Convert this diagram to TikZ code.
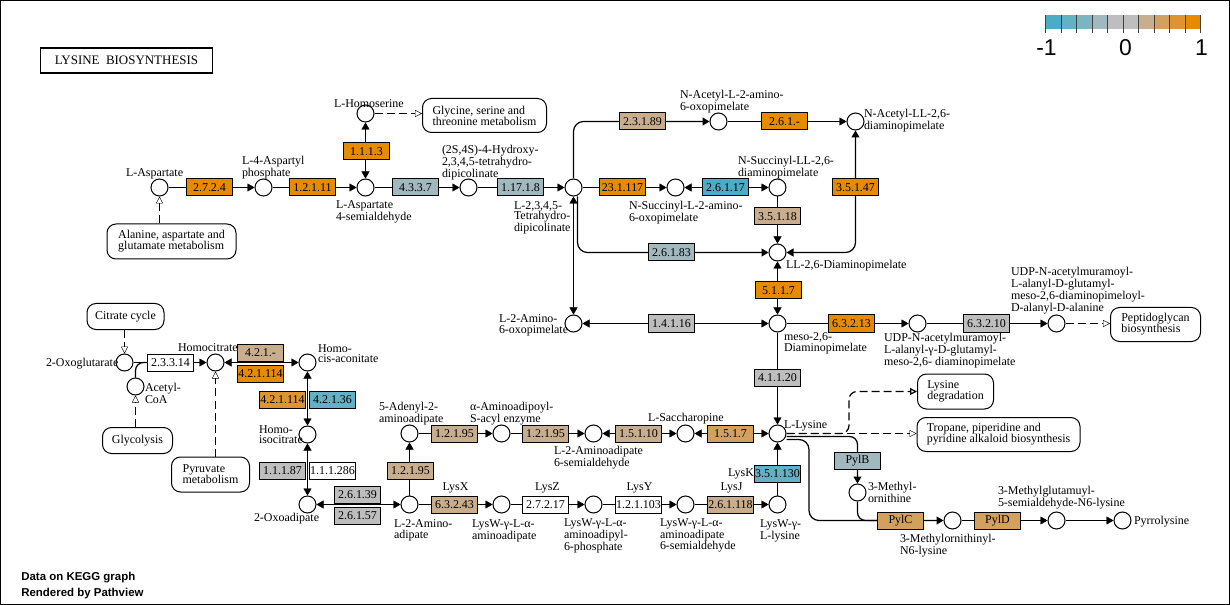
\documentclass[tikz,border=0pt]{standalone}
\usepackage{fontspec}
\setmainfont{Liberation Serif}
\newfontfamily\sansfont{Liberation Sans}
\usepackage{tikz}
\usetikzlibrary{
	arrows.meta,
	calc,
	positioning,
	backgrounds,
	}

\definecolor{up}{HTML}{E68A00}
\definecolor{upb}{HTML}{DC9530}
\definecolor{upc}{HTML}{D2A15F}
\definecolor{upd}{HTML}{C8AE8E}
\definecolor{zero}{HTML}{BEBEBE}
\definecolor{dnd}{HTML}{A0B8BE}
\definecolor{dnc}{HTML}{7DB4C2}
\definecolor{dnb}{HTML}{64B0C4}
\definecolor{dn}{HTML}{4BACC6}

\tikzset{
	cpd/.style={draw, circle, fill=white, minimum size=17bp, inner sep=0pt},
	enz/.style={draw, fill=white, minimum width=46bp, minimum height=17bp, inner sep=0pt, font=\fontsize{12}{12}\selectfont},
	lbl/.style={align=left, inner sep=0pt, anchor=west, font=\fontsize{12}{10.5}\selectfont},
	map/.style={draw, fill=white, rounded corners=9bp, align=left, inner sep=0pt, font=\fontsize{12}{11}\selectfont},
	mlink/.style={dash pattern=on 8bp off 4bp, -{Triangle[open, length=7bp, width=7bp]}},
	elbow/.style={rounded corners=#1, line width=1.25bp},
	elbow/.default=10bp,
}

\begin{document}
\begin{tikzpicture}[x=1bp, y=-1bp, line width=1bp, >={Triangle[length=7bp, width=8bp]}]
	\useasboundingbox (-0.5,-0.5) rectangle (1229.5,604.5);
	\draw[line width=1.5bp] (0.25,0.25) rectangle (1228.75,603.75);

	\node[draw, line width=1.2bp, minimum width=172bp, minimum height=25bp, font=\fontsize{13}{13}\selectfont] (title) at (126,60) {LYSINE\ \ BIOSYNTHESIS};

	\foreach \c [count=\i from 0] in {dn,dnb,dnc,dnd,zero,zero,upd,upc,upb,up}
		\fill[\c] (1045+15.5*\i,15) rectangle ++(15.5,14);
	\foreach \i in {0,...,10}
		\draw[line width=0.8bp, black!75] (1045+15.5*\i,15) -- ++(0,18);
	\node[font=\sansfont\fontsize{23}{23}\selectfont] (lgmin) at (1046,47) {-1};
	\node[font=\sansfont\fontsize{23}{23}\selectfont] (lgmid) at (1125,47) {0};
	\node[font=\sansfont\fontsize{23}{23}\selectfont] (lgmax) at (1201,47) {1};

	\node[anchor=west, font=\sansfont\bfseries\fontsize{11.5}{12}\selectfont] (foot1) at (17,577) {Data on KEGG graph};
	\node[anchor=west, font=\sansfont\bfseries\fontsize{11.5}{12}\selectfont] (foot2) at (17,593) {Rendered by Pathview};

	\node[cpd] (asp) at (159,187) {};
	\node[cpd] (asppho) at (263,187) {};
	\node[cpd] (asa) at (365,187) {};
	\node[cpd] (hser) at (365,113) {};
	\node[cpd] (hthdp) at (468,187) {};
	\node[cpd] (thdp) at (573,187) {};
	\node[cpd] (nsucoxo) at (675,187) {};
	\node[cpd] (nsucdap) at (777,187) {};
	\node[cpd] (nacoxo) at (718,121) {};
	\node[cpd] (naclldap) at (855,121) {};
	\node[cpd] (lldap) at (777,252) {};
	\node[cpd] (l2a6o) at (573,323) {};
	\node[cpd] (mesodap) at (777,323) {};
	\node[cpd] (udpmd) at (917,323) {};
	\node[cpd] (udppen) at (1056,323) {};
	\node[cpd] (lys) at (777,433) {};
	\node[cpd] (meorn) at (857,492) {};
	\node[cpd] (meornlys) at (952,520) {};
	\node[cpd] (mglu) at (1056,520) {};
	\node[cpd] (pyl) at (1122,520) {};
	\node[cpd] (lyswlys) at (777,504) {};
	\node[cpd] (lyswsa) at (685,504) {};
	\node[cpd] (lyswp) at (593,504) {};
	\node[cpd] (lyswaa) at (501,504) {};
	\node[cpd] (l2aa) at (409,504) {};
	\node[cpd] (adenyl) at (409,433) {};
	\node[cpd] (aaacyl) at (501,433) {};
	\node[cpd] (l2aa6sa) at (593,433) {};
	\node[cpd] (sacch) at (685,433) {};
	\node[cpd] (oxog) at (124,362) {};
	\node[cpd] (homocit) at (215,362) {};
	\node[cpd] (acoa) at (135,386) {};
	\node[cpd] (homocis) at (307,362) {};
	\node[cpd] (homoiso) at (307,434) {};
	\node[cpd] (oxoad) at (307,504) {};

	\node[enz, fill=up] (e2724) at (209,187) {2.7.2.4};
	\node[enz, fill=up] (e12111) at (312,187) {1.2.1.11};
	\node[enz, fill=up] (e1113) at (366,151) {1.1.1.3};
	\node[enz, fill=dnd] (e4337) at (415,187) {4.3.3.7};
	\node[enz, fill=dnd] (e11718) at (520,187) {1.17.1.8};
	\node[enz, fill=upd] (e23189) at (642,121) {2.3.1.89};
	\node[enz, fill=up] (e261x) at (784,121) {2.6.1.-};
	\node[enz, fill=up] (e231117) at (622,187) {23.1.117};
	\node[enz, fill=dn] (e26117) at (725,187) {2.6.1.17};
	\node[enz, fill=upd] (e35118) at (777,216) {3.5.1.18};
	\node[enz, fill=up] (e35147) at (855,187) {3.5.1.47};
	\node[enz, fill=dnd] (e26183) at (671,252) {2.6.1.83};
	\node[enz, fill=up] (e5117) at (778,290) {5.1.1.7};
	\node[enz, fill=zero] (e14116) at (671,323) {1.4.1.16};
	\node[enz, fill=up] (e63213) at (851,323) {6.3.2.13};
	\node[enz, fill=zero] (e63210) at (986,323) {6.3.2.10};
	\node[enz, fill=zero] (e41120) at (777,377) {4.1.1.20};
	\node[enz] (e23314) at (170,362) {2.3.3.14};
	\node[enz, fill=upd] (e421x) at (260,352) {4.2.1.-};
	\node[enz, fill=up] (e421114a) at (260,373) {4.2.1.114};
	\node[enz, fill=upb] (e421114b) at (282,399) {4.2.1.114};
	\node[enz, fill=dnb] (e42136) at (332,399) {4.2.1.36};
	\node[enz, fill=zero] (e11187) at (282,470) {1.1.1.87};
	\node[enz] (e111286) at (332,470) {1.1.1.286};
	\node[enz, fill=zero] (e26139) at (357,494) {2.6.1.39};
	\node[enz, fill=zero] (e26157) at (357,515) {2.6.1.57};
	\node[enz, fill=upd] (e12195a) at (410,470) {1.2.1.95};
	\node[enz, fill=upd] (e12195b) at (454,433) {1.2.1.95};
	\node[enz, fill=upd] (e12195c) at (545,433) {1.2.1.95};
	\node[enz, fill=upd] (e15110) at (638,433) {1.5.1.10};
	\node[enz, fill=upc] (e1517) at (730,433) {1.5.1.7};
	\node[enz, fill=upd] (e63243) at (454,504) {6.3.2.43};
	\node[enz] (e27217) at (545,504) {2.7.2.17};
	\node[enz] (e121103) at (638,504) {1.2.1.103};
	\node[enz, fill=upd] (e261118) at (730,504) {2.6.1.118};
	\node[enz, fill=dnb] (e351130) at (777,473) {3.5.1.130};
	\node[enz, fill=dnd] (pylb) at (857,460) {PylB};
	\node[enz, fill=upc] (pylc) at (900,520) {PylC};
	\node[enz, fill=upc] (pyld) at (997,520) {PylD};

	\node[map, minimum width=129bp, minimum height=35bp] (mala) at (171,241) {Alanine, aspartate and\\glutamate metabolism};
	\node[map, minimum width=124bp, minimum height=34bp] (mgly) at (484,115) {Glycine, serine and\\threonine metabolism};
	\node[map, minimum width=77bp, minimum height=26bp] (mcit) at (125,316) {Citrate cycle};
	\node[map, minimum width=70bp, minimum height=26bp] (mglyc) at (137,440) {Glycolysis};
	\node[map, minimum width=78bp, minimum height=35bp] (mpyr) at (210,474) {Pyruvate\\metabolism};
	\node[map, minimum width=90bp, minimum height=34bp] (mpep) at (1155,324) {Peptidoglycan\\biosynthesis};
	\node[map, minimum width=76bp, minimum height=35bp] (mlysdeg) at (955,391) {Lysine\\degradation};
	\node[map, minimum width=163bp, minimum height=34bp] (mtrop) at (998,434) {Tropane, piperidine and\\pyridine alkaloid biosynthesis};

	\node[lbl] (t-asp) at (125,173) {L-Aspartate};
	\node[lbl] (t-asppho) at (241,167) {L-4-Aspartyl\\phosphate};
	\node[lbl] (t-hser) at (333,103) {L-Homoserine};
	\node[lbl] (t-asa) at (335,211) {L-Aspartate\\4-semialdehyde};
	\node[lbl] (t-hthdp) at (441,162) {(2S,4S)-4-Hydroxy-\\2,3,4,5-tetrahydro-\\dipicolinate};
	\node[lbl] (t-thdp) at (513,217) {L-2,3,4,5-\\Tetrahydro-\\dipicolinate};
	\node[lbl] (t-nacoxo) at (679,101) {N-Acetyl-L-2-amino-\\6-oxopimelate};
	\node[lbl] (t-naclldap) at (863,120) {N-Acetyl-LL-2,6-\\diaminopimelate};
	\node[lbl] (t-nsucdap) at (737,167) {N-Succinyl-LL-2,6-\\diaminopimelate};
	\node[lbl] (t-nsucoxo) at (628,212) {N-Succinyl-L-2-amino-\\6-oxopimelate};
	\node[lbl] (t-lldap) at (785,265) {LL-2,6-Diaminopimelate};
	\node[lbl] (t-l2a6o) at (498,325) {L-2-Amino-\\6-oxopimelate};
	\node[lbl] (t-mesodap) at (783,343) {meso-2,6-\\Diaminopimelate};
	\node[lbl] (t-udpmd) at (883,350) {UDP-N-acetylmuramoyl-\\L-alanyl-γ-D-glutamyl-\\meso-2,6- diaminopimelate};
	\node[lbl] (t-udppen) at (1010,290) {UDP-N-acetylmuramoyl-\\L-alanyl-D-glutamyl-\\meso-2,6-diaminopimeloyl-\\D-alanyl-D-alanine};
	\node[lbl] (t-lys) at (783,425) {L-Lysine};
	\node[lbl] (t-meorn) at (867,492) {3-Methyl-\\ornithine};
	\node[lbl] (t-meornlys) at (899,545) {3-Methylornithinyl-\\N6-lysine};
	\node[lbl] (t-mglu) at (997,497) {3-Methylglutamuyl-\\5-semialdehyde-N6-lysine};
	\node[lbl] (t-pyl) at (1133,521) {Pyrrolysine};
	\node[lbl] (t-lysk) at (727,473) {LysK};
	\node[lbl, anchor=center] (t-lysj) at (731,487) {LysJ};
	\node[lbl, anchor=center] (t-lysy) at (639,487) {LysY};
	\node[lbl, anchor=center] (t-lysz) at (547,487) {LysZ};
	\node[lbl, anchor=center] (t-lysx) at (455,487) {LysX};
	\node[lbl] (t-lyswlys) at (759,530) {LysW-γ-\\L-lysine};
	\node[lbl] (t-lyswsa) at (659,535) {LysW-γ-L-α-\\aminoadipate\\6-semialdehyde};
	\node[lbl] (t-lyswp) at (563,535) {LysW-γ-L-α-\\aminoadipyl-\\6-phosphate};
	\node[lbl] (t-lyswaa) at (471,530) {LysW-γ-L-α-\\aminoadipate};
	\node[lbl] (t-l2aa) at (393,530) {L-2-Amino-\\adipate};
	\node[lbl] (t-adenyl) at (378,413) {5-Adenyl-2-\\aminoadipate};
	\node[lbl] (t-aaacyl) at (469,413) {α-Aminoadipoyl-\\S-acyl enzyme};
	\node[lbl] (t-l2aa6sa) at (553,457) {L-2-Aminoadipate\\6-semialdehyde};
	\node[lbl] (t-sacch) at (647,418) {L-Saccharopine};
	\node[lbl] (t-oxoad) at (253,518) {2-Oxoadipate};
	\node[lbl] (t-homoiso) at (258,434) {Homo-\\isocitrate};
	\node[lbl] (t-homocis) at (317,353) {Homo-\\cis-aconitate};
	\node[lbl] (t-homocit) at (177,347) {Homocitrate};
	\node[lbl] (t-oxog) at (45,363) {2-Oxoglutarate};
	\node[lbl] (t-acoa) at (144,393) {Acetyl-\\CoA};

	\begin{scope}[on background layer]
		\draw[->] (asp) -- (asppho);
		\draw[->] (asppho) -- (asa);
		\draw[<->] (asa) -- (hser);
		\draw[->] (asa) -- (hthdp);
		\draw[->] (hthdp) -- (thdp);
		\draw[->] (thdp) -- (nsucoxo);
		\draw[<->] (nsucoxo) -- (nsucdap);
		\draw[->] (nsucdap) -- (lldap);
		\draw[->, elbow] (thdp) |- (nacoxo);
		\draw[->] (nacoxo) -- (naclldap);
		\draw[<->, elbow] (naclldap) |- (lldap);
		\draw[->, elbow] ([xshift=4bp]thdp.south) |- (lldap);
		\draw[<->] (thdp) -- (l2a6o);
		\draw[<->] (l2a6o) -- (mesodap);
		\draw[<->] (lldap) -- (mesodap);
		\draw[->] (mesodap) -- (udpmd);
		\draw[->] (udpmd) -- (udppen);
		\draw[->] (mesodap) -- (lys);
		\draw[->, elbow=8bp] ([yshift=-3bp]lys.east) -| (meorn);
		\draw[->, elbow] ([yshift=-6bp]lys.east) -- ([xshift=22.5bp, yshift=-6bp]lys.east) |- (meornlys);
		\draw[elbow=8bp] (meorn) |- (pylc.west);
		\draw[->] (meornlys) -- (mglu);
		\draw[->] (mglu) -- (pyl);
		\draw[->] (lyswlys) -- (lys);
		\draw[->] (lyswsa) -- (lyswlys);
		\draw[->] (lyswp) -- (lyswsa);
		\draw[->] (lyswaa) -- (lyswp);
		\draw[->] (l2aa) -- (lyswaa);
		\draw[->] (l2aa) -- (adenyl);
		\draw[->] (adenyl) -- (aaacyl);
		\draw[->] (aaacyl) -- (l2aa6sa);
		\draw[<->] (l2aa6sa) -- (sacch);
		\draw[<->] (sacch) -- (lys);
		\draw[->] (oxog) -- (homocit);
		\draw[elbow=8bp] (acoa) |- (e23314.west);
		\draw[<->] (homocit) -- (homocis);
		\draw[<->] (homocis) -- (homoiso);
		\draw[<->] (homoiso) -- (oxoad);
		\draw[<->] (oxoad) -- (l2aa);
		\draw[mlink] (hser) -- (hser -| mgly.west);
		\draw[mlink] (asp |- mala.north) -- (asp);
		\draw[mlink] (oxog |- mcit.south) -- (oxog);
		\draw[mlink] (acoa |- mglyc.north) -- (acoa);
		\draw[mlink] (homocit |- mpyr.north) -- (homocit);
		\draw[mlink] (udppen) -- (udppen -| mpep.west);
		\draw[mlink] (lys) -- (lys -| mtrop.west);
		\draw[mlink, elbow=8bp] (lys.east) -- ([xshift=62.5bp]lys.east) |- (mlysdeg.west);
	\end{scope}
\end{tikzpicture}
\end{document}
